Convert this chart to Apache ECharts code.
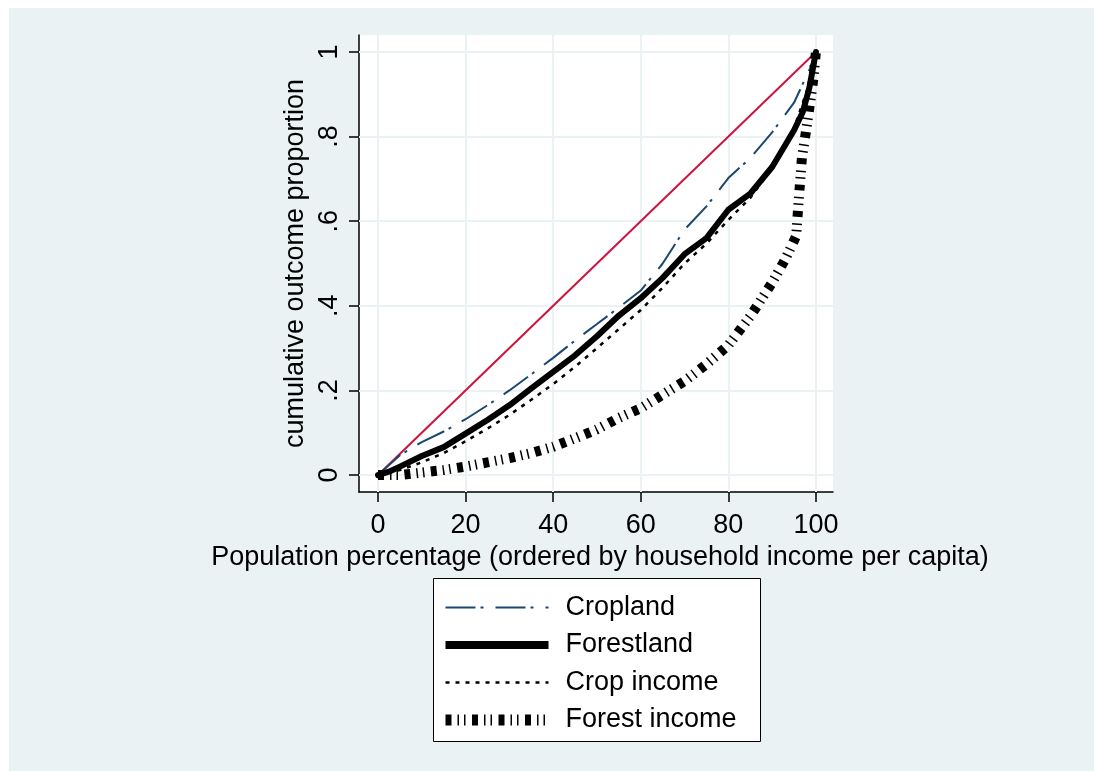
<!DOCTYPE html>
<html>
<head>
<meta charset="utf-8">
<script src="https://cdn.jsdelivr.net/npm/echarts@6/dist/echarts.min.js"></script>
<style>
  html, body { margin: 0; padding: 0; background: #ffffff; }
  #wrap { position: absolute; left: 9px; top: 8px; width: 1085px; height: 763px; }
</style>
</head>
<body>
<div id="wrap"></div>
<script>
// ---- data (population %, cumulative share) ----
const xTickValues = [0, 20, 40, 60, 80, 100];
const xTickLabels = ['0', '20', '40', '60', '80', '100'];
const yTickValues = [0, 0.2, 0.4, 0.6, 0.8, 1];
const yTickLabels = ['0', '.2', '.4', '.6', '.8', '1'];

const equality = [[0, 0], [100, 1]];

const cropland = [[0,0],[5,0.047],[10,0.078],[15,0.103],[20,0.132],[25,0.165],[30,0.2],[35,0.238],
  [40,0.277],[45,0.318],[50,0.357],[55,0.396],[60,0.436],[65,0.5],[70,0.58],[75,0.635],[80,0.702],
  [85,0.749],[90,0.81],[95,0.88],[98.6,0.96],[100,1]];

const forestland = [[0,0],[2.5,0.008],[5,0.02],[10,0.045],[15,0.066],[20,0.098],[25,0.13],[30,0.165],
  [35,0.205],[40,0.244],[45,0.283],[50,0.328],[55,0.377],[60,0.418],[65,0.466],[70,0.522],[75,0.56],
  [80,0.627],[85,0.665],[90,0.728],[93,0.78],[95,0.815],[97,0.858],[98.5,0.915],[100,1]];

const cropIncome = [[0,0],[5,0.012],[10,0.03],[15,0.052],[20,0.08],[25,0.11],[30,0.142],[35,0.178],
  [40,0.215],[45,0.256],[50,0.3],[55,0.345],[60,0.39],[65,0.443],[70,0.5],[75,0.547],[80,0.603],
  [85,0.655],[90,0.725],[95,0.82],[98,0.91],[100,1]];

const forestIncome = [[0,0],[5,0.0],[10,0.006],[15,0.012],[20,0.02],[25,0.03],[30,0.04],[35,0.052],
  [40,0.067],[45,0.087],[50,0.108],[55,0.135],[60,0.158],[65,0.19],[70,0.222],[75,0.262],[80,0.307],
  [85,0.375],[90,0.455],[93,0.51],[95.5,0.565],[96,0.64],[96.8,0.75],[97.7,0.81],[98.6,0.875],
  [99.4,0.935],[100,1]];

const seriesNames = ['Cropland', 'Forestland', 'Crop income', 'Forest income'];

// ---- chart ----
const FONT = 'Liberation Sans, Arial, Helvetica, sans-serif';
const FS = 27;
const gridColor = '#eaf2f3';

function labelFor(values, labels) {
  return function (v) {
    let best = 0, bd = Infinity;
    values.forEach((t, i) => { const d = Math.abs(t - v); if (d < bd) { bd = d; best = i; } });
    return labels[best];
  };
}

const styles = {
  'Cropland':      { color: '#1a476f', width: 2,   type: [30, 5, 3, 12], legendWidth: 2 },
  'Forestland':    { color: '#000000', width: 6,   type: 'solid',        legendWidth: 8 },
  'Crop income':   { color: '#000000', width: 2.5, type: [4, 6],         legendWidth: 2.5 },
  'Forest income': { color: '#000000', width: 10,  type: [6, 6, 1.5, 5, 1.5, 6.5], legendWidth: 11 }
};

const chart = echarts.init(document.getElementById('wrap'), null, { renderer: 'canvas' });

const gridMarks = xTickValues.map(v => ({ xAxis: v })).concat(yTickValues.map(v => ({ yAxis: v })));

const dataBySeries = {
  'Cropland': cropland, 'Forestland': forestland, 'Crop income': cropIncome, 'Forest income': forestIncome
};

const curveSeries = seriesNames.map((n, i) => ({
  name: n, type: 'line', data: dataBySeries[n], showSymbol: false, symbol: 'none', z: 3 + i, silent: true,
  itemStyle: { color: styles[n].color },
  lineStyle: { color: styles[n].color, width: styles[n].width, type: styles[n].type,
    cap: n === 'Forestland' ? 'round' : 'butt', join: 'round' }
}));

chart.setOption({
  animation: false,
  backgroundColor: '#eaf2f3',
  textStyle: { fontFamily: FONT },
  grid: {
    left: 350, right: 261, top: 27, bottom: 279,
    show: true, backgroundColor: '#ffffff', borderWidth: 0
  },
  graphic: [{
    type: 'rect', z: 1,
    shape: { x: 424.5, y: 570.5, width: 327, height: 163 },
    style: { fill: '#ffffff', stroke: '#000000', lineWidth: 1 }
  }],
  legend: {
    data: seriesNames.map(n => ({
      name: n,
      lineStyle: { width: styles[n].legendWidth, type: styles[n].type, color: styles[n].color, cap: 'butt' }
    })),
    orient: 'vertical',
    left: 431, top: 586,
    padding: 0,
    itemWidth: 103, itemHeight: 14, itemGap: 10.5,
    itemStyle: { opacity: 0 },
    textStyle: { fontFamily: FONT, fontSize: FS, color: '#000', lineHeight: 27, padding: [0, 0, 0, 12] },
    selectedMode: false, z: 5
  },
  xAxis: {
    type: 'value', min: -4.34, max: 103.9,
    name: 'Population percentage (ordered by household income per capita)',
    nameLocation: 'middle', nameGap: 40,
    nameTextStyle: { fontFamily: FONT, fontSize: FS, color: '#000', padding: [0, 0, 0, 8] },
    axisLine: { show: true, onZero: false, lineStyle: { color: '#000', width: 1.5 } },
    axisTick: { show: true, length: 10, customValues: xTickValues, lineStyle: { color: '#000', width: 1.5 } },
    axisLabel: { customValues: xTickValues, margin: 20, fontFamily: FONT, fontSize: FS, color: '#000',
      formatter: labelFor(xTickValues, xTickLabels) },
    splitLine: { show: false }
  },
  yAxis: {
    type: 'value', min: -0.040, max: 1.040,
    name: 'cumulative outcome proportion',
    nameLocation: 'middle', nameGap: 50, nameRotate: 90,
    nameTextStyle: { fontFamily: FONT, fontSize: FS, color: '#000' },
    axisLine: { show: true, onZero: false, lineStyle: { color: '#000', width: 1.5 } },
    axisTick: { show: true, length: 10, customValues: yTickValues, lineStyle: { color: '#000', width: 1.5 } },
    axisLabel: { customValues: yTickValues, margin: 16, rotate: 90, fontFamily: FONT, fontSize: FS, color: '#000',
      formatter: labelFor(yTickValues, yTickLabels) },
    splitLine: { show: false }
  },
  series: [
    {
      name: 'gridlines', type: 'line', data: [], silent: true, z: 1,
      markLine: {
        silent: true, symbol: 'none', z: 1, animation: false,
        label: { show: false },
        lineStyle: { color: gridColor, width: 2, type: 'solid' },
        emphasis: { disabled: true },
        data: gridMarks
      }
    },
    {
      name: 'Equality', type: 'line', data: equality, showSymbol: false, symbol: 'none', z: 2,
      lineStyle: { color: '#cc1440', width: 2 }, silent: true
    }
  ].concat(curveSeries)
});
</script>
</body>
</html>
